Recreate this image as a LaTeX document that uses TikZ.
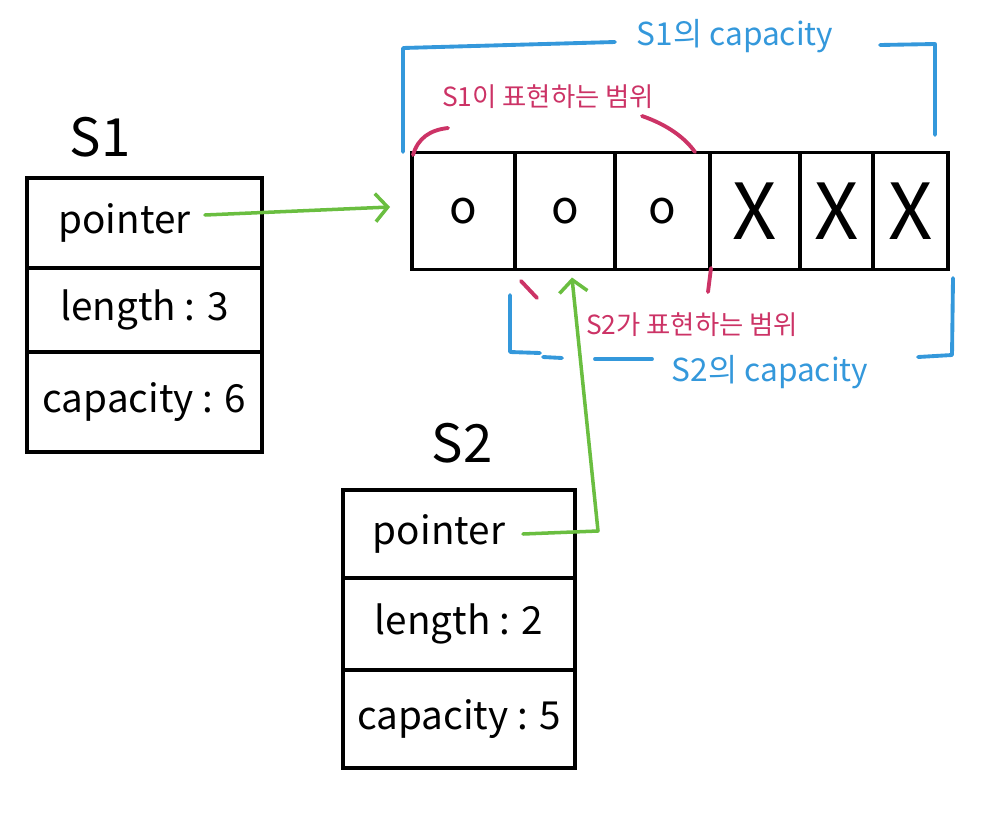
\documentclass[tikz,border=0pt]{standalone}
\usepackage{fontspec}
\setmainfont{Noto Sans CJK KR}
\usetikzlibrary{arrows.meta,positioning,calc}
\usepackage{xcolor}
\definecolor{Ink}{RGB}{0,0,0}
\definecolor{CapBlue}{RGB}{52,152,219}
\definecolor{RangeRed}{RGB}{204,51,102}
\definecolor{PtrGreen}{RGB}{106,190,64}
\newcommand{\fsz}[1]{\fontsize{#1}{#1}\selectfont}
\tikzset{
  field/.style={rectangle,draw=Ink,line width=2.2pt,minimum width=4.7cm,
                outer sep=0pt,inner sep=0pt,font=\fsz{22}},
  cell/.style={rectangle,draw=Ink,line width=2.2pt,minimum height=2.34cm,
               outer sep=0pt,inner sep=0pt,font=\fsz{26}},
  xcell/.style={cell,font=\fsz{44}},
  sname/.style={font=\fsz{30}},
  ptr/.style={-{Straight Barb[length=7pt,width=16pt]},PtrGreen,line width=2pt,
              line cap=round,line join=round},
  capline/.style={CapBlue,line width=2.2pt,line cap=round,line join=round},
  rangeline/.style={RangeRed,line width=2.2pt,line cap=round},
  caplabel/.style={CapBlue,font=\fsz{18}},
  rangelabel/.style={RangeRed,font=\fsz{15}},
}

\begin{document}
\begin{tikzpicture}[x=0.02cm,y=-0.02cm]
  \useasboundingbox (0,0) rectangle (996,815);

  % S1 struct
  \node[sname] (s1) at (100,137) {S1};
  \node[field,minimum height=1.8cm,anchor=north west] (s1p) at (27,178) {pointer\kern0.8cm};
  \node[field,minimum height=1.68cm,below=0pt of s1p] (s1l) {length : 3};
  \node[field,minimum height=2.0cm,below=0pt of s1l] (s1c) {capacity : 6};

  % S2 struct
  \node[sname] (s2) at (462,443) {S2};
  \node[field,minimum width=4.64cm,minimum height=1.76cm,anchor=north west] (s2p) at (343,490) {pointer\kern0.8cm};
  \node[field,minimum width=4.64cm,minimum height=1.84cm,below=0pt of s2p] (s2l) {length : 2};
  \node[field,minimum width=4.64cm,minimum height=1.96cm,below=0pt of s2l] (s2c) {capacity : 5};

  % backing array
  \node[cell,minimum width=2.06cm,anchor=west] (c1) at (412,211) {o};
  \node[cell,minimum width=2.0cm,right=0pt of c1] (c2) {o};
  \node[cell,minimum width=1.9cm,right=0pt of c2] (c3) {o};
  \node[xcell,minimum width=1.8cm,right=0pt of c3] (c4) {X};
  \node[xcell,minimum width=1.46cm,right=0pt of c4] (c5) {X};
  \node[xcell,minimum width=1.5cm,right=0pt of c5] (c6) {X};

  % pointers
  \coordinate (a1) at ($(c1.west)+(-22,-4)$);
  \draw[ptr] ($(s1p.east)+(-57,-8)$) -- (a1);
  \coordinate (bend2) at (598,531);
  \coordinate (a2) at ($(c2.south)+(7,8)$);
  \draw[ptr] ($(s2p.east)+(-52,0)$) -- (bend2) -- (a2);

  % S1 ranges
  \draw[capline] (403,152) -- (403,48) -- (615,42);
  \draw[capline] (880,45) -- (935,44) -- (935,135);
  \node[caplabel] (cap1) at (735,36) {S1의 capacity};
  \draw[rangeline] (413,155) .. controls (418,138) and (430,130) .. (448,128);
  \draw[rangeline] (642,116) .. controls (668,125) and (685,138) .. (695,152);
  \node[rangelabel] (rng1) at (548,97) {S1이 표현하는 범위};

  % S2 ranges
  \draw[rangeline] (521,281) -- (537,298);
  \draw[rangeline] (711,268) -- (708,292);
  \node[rangelabel] (rng2) at (692,325) {S2가 표현하는 범위};
  \draw[capline] (510,295) -- (510,352) -- (540,353);
  \draw[capline] (543,357) -- (562,358);
  \draw[capline] (595,359) -- (652,359);
  \draw[capline] (918,357) -- (952,355) -- (953,278);
  \node[caplabel] (cap2) at (770,372) {S2의 capacity};
\end{tikzpicture}
\end{document}
